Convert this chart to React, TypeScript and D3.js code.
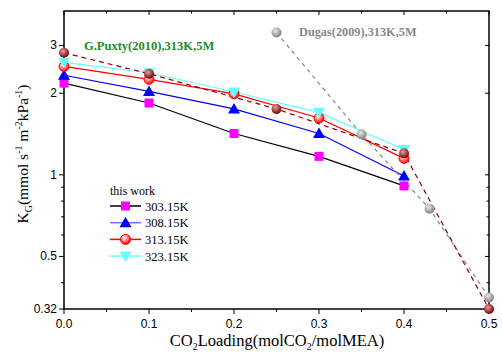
import React, { useEffect, useRef } from "react";
import * as d3 from "d3";

// CO2 loading (molCO2/molMEA)
const loading = [0.0, 0.1, 0.2, 0.3, 0.4];
// this work, K_G values
const k303 = [2.18, 1.84, 1.42, 1.17, 0.91];
const k308 = [2.33, 2.03, 1.75, 1.42, 0.99];
const k313 = [2.51, 2.25, 1.99, 1.62, 1.15];
const k323 = [2.6, 2.38, 2.02, 1.7, 1.24];
// literature
const puxtyX = [0.0, 0.1, 0.25, 0.4, 0.5];
const puxtyY = [2.82, 2.36, 1.75, 1.2, 0.32];
const dugasX = [0.25, 0.35, 0.43, 0.5];
const dugasY = [3.35, 1.41, 0.75, 0.353];

const xTicks = [0.0, 0.1, 0.2, 0.3, 0.4, 0.5];
const xMinor = [0.05, 0.15, 0.25, 0.35, 0.45];
const yTicks = [0.32, 0.5, 1, 2, 3];
const yMinor = [0.4, 0.6, 0.7, 0.8, 0.9];

const W = 502;
const H = 357;
const margin = { left: 64, right: 13, top: 11, bottom: 48 };

const App = () => {
  const ref = useRef(null);

  useEffect(() => {
    document.body.style.margin = "0";
    const svg = d3.select(ref.current);
    svg.html("");

    const x = d3.scaleLinear().domain([0, 0.5]).range([margin.left, W - margin.right]);
    const y = d3.scaleLog().domain([0.32, 4.02]).range([H - margin.bottom, margin.top]);

    const defs = svg.append("defs");
    const sphere = (id: string, light: string, base: string) => {
      const g = defs
        .append("radialGradient")
        .attr("id", id)
        .attr("cx", "40%")
        .attr("cy", "35%")
        .attr("r", "65%");
      g.append("stop").attr("offset", "0%").attr("stop-color", light);
      g.append("stop").attr("offset", "100%").attr("stop-color", base);
    };
    sphere("gBrown", "#e0a0a0", "#7a0000");
    sphere("gGray", "#e8e8e8", "#808080");
    sphere("gRed", "#ffffff", "#ff0000");

    const sans = "Liberation Sans, Arial, sans-serif";
    const serif = "Liberation Serif, Times New Roman, serif";

    // frame
    svg
      .append("rect")
      .attr("x", x(0))
      .attr("y", margin.top)
      .attr("width", x(0.5) - x(0))
      .attr("height", H - margin.bottom - margin.top)
      .attr("fill", "none")
      .attr("stroke", "#000")
      .attr("stroke-width", 1.5);

    const yb = y(0.32);
    const yt = y(4.02);
    // bottom / top ticks
    xTicks.forEach((t) => {
      svg.append("line").attr("x1", x(t)).attr("x2", x(t)).attr("y1", yb).attr("y2", yb + 5).attr("stroke", "#000");
      svg.append("line").attr("x1", x(t)).attr("x2", x(t)).attr("y1", yt).attr("y2", yt + 4).attr("stroke", "#000");
      svg
        .append("text")
        .attr("x", x(t))
        .attr("y", yb + 19)
        .attr("text-anchor", "middle")
        .attr("font-family", sans)
        .attr("font-size", 12)
        .text(d3.format(".1f")(t));
    });
    xMinor.forEach((t) => {
      svg.append("line").attr("x1", x(t)).attr("x2", x(t)).attr("y1", yb).attr("y2", yb + 3).attr("stroke", "#000");
      svg.append("line").attr("x1", x(t)).attr("x2", x(t)).attr("y1", yt).attr("y2", yt + 2.5).attr("stroke", "#000");
    });
    // left / right ticks
    const xl = x(0);
    const xr = x(0.5);
    yTicks.forEach((t) => {
      svg.append("line").attr("x1", xl - 5).attr("x2", xl).attr("y1", y(t)).attr("y2", y(t)).attr("stroke", "#000");
      svg.append("line").attr("x1", xr - 4).attr("x2", xr).attr("y1", y(t)).attr("y2", y(t)).attr("stroke", "#000");
      svg
        .append("text")
        .attr("x", xl - 7)
        .attr("y", y(t) + 4)
        .attr("text-anchor", "end")
        .attr("font-family", sans)
        .attr("font-size", 12)
        .text(String(t));
    });
    yMinor.forEach((t) => {
      svg.append("line").attr("x1", xl - 3).attr("x2", xl).attr("y1", y(t)).attr("y2", y(t)).attr("stroke", "#000");
      svg.append("line").attr("x1", xr - 2.5).attr("x2", xr).attr("y1", y(t)).attr("y2", y(t)).attr("stroke", "#000");
    });

    // axis titles
    const xt = svg
      .append("text")
      .attr("x", 277)
      .attr("y", 346)
      .attr("text-anchor", "middle")
      .attr("font-family", serif)
      .attr("font-size", 16.5);
    xt.append("tspan").text("CO");
    xt.append("tspan").attr("font-size", 10).attr("dy", 4).text("2");
    xt.append("tspan").attr("dy", -4).text("Loading(molCO");
    xt.append("tspan").attr("font-size", 10).attr("dy", 4).text("2");
    xt.append("tspan").attr("dy", -4).text("/molMEA)");

    const ytl = svg
      .append("text")
      .attr("transform", `translate(28,154) rotate(-90)`)
      .attr("text-anchor", "middle")
      .attr("font-family", serif)
      .attr("font-size", 15.5);
    ytl.append("tspan").text("K");
    ytl.append("tspan").attr("font-size", 10).attr("dy", 4).text("G");
    ytl.append("tspan").attr("dy", -4).text("(mmol s");
    ytl.append("tspan").attr("font-size", 10).attr("dy", -6).text("-1");
    ytl.append("tspan").attr("dy", 6).text(" m");
    ytl.append("tspan").attr("font-size", 10).attr("dy", -6).text("-2");
    ytl.append("tspan").attr("dy", 6).text("kPa");
    ytl.append("tspan").attr("font-size", 10).attr("dy", -6).text("-1");
    ytl.append("tspan").attr("dy", 6).text(")");

    const line = d3
      .line<[number, number]>()
      .x((d) => x(d[0]))
      .y((d) => y(d[1]));

    const drawMarker = (g: any, kind: string, cx: number, cy: number) => {
      if (kind === "square") {
        g.append("rect").attr("x", cx - 4.5).attr("y", cy - 4.5).attr("width", 9).attr("height", 9).attr("fill", "#ff00ff");
      } else if (kind === "up") {
        g.append("path")
          .attr("d", `M${cx},${cy - 6}L${cx + 6},${cy + 4.5}L${cx - 6},${cy + 4.5}Z`)
          .attr("fill", "#0000ff");
      } else if (kind === "down") {
        g.append("path")
          .attr("d", `M${cx},${cy + 6}L${cx + 6},${cy - 4.5}L${cx - 6},${cy - 4.5}Z`)
          .attr("fill", "#66ffff");
      } else if (kind === "red") {
        g.append("circle").attr("cx", cx).attr("cy", cy).attr("r", 5).attr("fill", "url(#gRed)").attr("stroke", "#ff0000").attr("stroke-width", 1);
      } else if (kind === "brown") {
        g.append("circle").attr("cx", cx).attr("cy", cy).attr("r", 5).attr("fill", "url(#gBrown)");
      } else if (kind === "gray") {
        g.append("circle").attr("cx", cx).attr("cy", cy).attr("r", 5).attr("fill", "url(#gGray)");
      }
    };

    const series = [
      { xs: loading, ys: k303, color: "#000000", marker: "square", label: "303.15K", dash: null },
      { xs: loading, ys: k308, color: "#0000ff", marker: "up", label: "308.15K", dash: null },
      { xs: loading, ys: k313, color: "#ff0000", marker: "red", label: "313.15K", dash: null },
      { xs: loading, ys: k323, color: "#66ffff", marker: "down", label: "323.15K", dash: null },
      { xs: dugasX, ys: dugasY, color: "#888888", marker: "gray", label: "", dash: "4,4" },
      { xs: puxtyX, ys: puxtyY, color: "#8b0000", marker: "brown", label: "", dash: "5,4" },
    ];

    series.forEach((s) => {
      const pts = s.xs.map((v, i) => [v, s.ys[i]] as [number, number]);
      svg
        .append("path")
        .datum(pts)
        .attr("d", line)
        .attr("fill", "none")
        .attr("stroke", s.color)
        .attr("stroke-width", 1.2)
        .attr("stroke-dasharray", s.dash);
    });
    series.forEach((s) => {
      const g = svg.append("g");
      s.xs.forEach((v, i) => drawMarker(g, s.marker, x(v), y(s.ys[i])));
    });

    // annotations
    svg
      .append("text")
      .attr("x", 84)
      .attr("y", 50)
      .attr("font-family", serif)
      .attr("font-weight", "bold")
      .attr("font-size", 12.5)
      .attr("fill", "#1e8c1e")
      .text("G.Puxty(2010),313K,5M");
    svg
      .append("text")
      .attr("x", 299)
      .attr("y", 36)
      .attr("font-family", serif)
      .attr("font-weight", "bold")
      .attr("font-size", 12.3)
      .attr("fill", "#888888")
      .text("Dugas(2009),313K,5M");

    // legend
    svg
      .append("text")
      .attr("x", 110)
      .attr("y", 195)
      .attr("font-family", serif)
      .attr("font-size", 12)
      .text("this work");
    series.slice(0, 4).forEach((s, i) => {
      const ly = 206 + i * 16.7;
      const lg = svg.append("g");
      lg.append("line").attr("x1", 110).attr("x2", 141).attr("y1", ly).attr("y2", ly).attr("stroke", s.color === "#0000ff" ? "#6f6fff" : s.color).attr("stroke-width", 1.5);
      drawMarker(lg, s.marker, 125.5, ly);
      lg.append("text")
        .attr("x", 145)
        .attr("y", ly + 4.5)
        .attr("font-family", serif)
        .attr("font-size", 12.5)
        .text(s.label);
    });
  }, []);

  return <svg ref={ref} width={W} height={H} style={{ display: "block", background: "#fff" }} />;
};

export default App;
